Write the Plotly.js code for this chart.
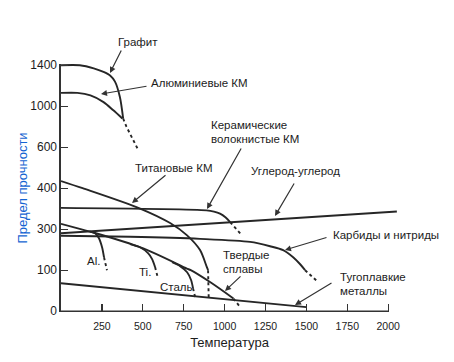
<!DOCTYPE html>
<html><head><meta charset="utf-8">
<script src="https://cdn.plot.ly/plotly-3.0.1.min.js"></script>
<style>html,body{margin:0;padding:0;background:#fff}</style>
</head><body><div id="chart" style="width:454px;height:362px"></div>
<script>
// Tick labels (the y axis in the original is non-uniform: labels are evenly spaced)
const yTickValues = [0, 100, 300, 400, 600, 1000, 1400];
const yTickLabels = ['0', '100', '300', '400', '600', '1000', '1400'];
const xTickValues = [250, 500, 750, 1000, 1250, 1500, 1750, 2000];
const xTickLabels = ['250', '500', '750', '1000', '1250', '1500', '1750', '2000'];

// Series (temperature, strength)
const graphiteX = [0, 115, 200, 260, 300, 330, 360, 380];
const graphiteY = [1400, 1400, 1370, 1335, 1300, 1240, 1090, 880];
const graphiteDotX = [380, 400, 470];
const graphiteDotY = [880, 800, 590];

const alKmX = [0, 100, 180, 260, 320, 375];
const alKmY = [1130, 1130, 1105, 1040, 960, 880];

const tiKmX = [0, 132, 480, 667, 769, 850, 891, 899];
const tiKmY = [435, 400, 351, 315, 271, 198, 116, 100];
const tiKmDotX = [899, 903];
const tiKmDotY = [100, 32];

const ceramicX = [0, 890, 935, 972, 1005, 1034];
const ceramicY = [352, 346, 343, 338, 329, 317];
const ceramicDotX = [1034, 1071, 1105];
const ceramicDotY = [317, 300, 271];

const carbonX = [0, 382, 2053];
const carbonY = [280, 300, 343];

const carbideX = [0, 422, 850, 1156, 1278, 1358, 1419, 1462, 1492];
const carbideY = [268, 263, 253, 238, 217, 198, 163, 129, 100];
const carbideDotX = [1492, 1566];
const carbideDotY = [100, 73];

const hardX = [0, 120, 198, 503, 769, 793, 911, 1054];
const hardY = [313, 300, 284, 206, 108, 100, 71, 31];
const hardDotX = [1054, 1095];
const hardDotY = [31, 10];

const alX = [177, 208, 232, 251, 263];
const alY = [288, 280, 256, 212, 163];
const alDotX = [263, 281];
const alDotY = [163, 100];

const tiX = [422, 483, 532, 557, 575];
const tiY = [227, 212, 183, 154, 115];
const tiDotX = [575, 593];
const tiDotY = [115, 80];

const steelX = [679, 728, 771, 795, 807];
const steelY = [139, 120, 95, 76, 56];
const steelDotX = [807, 820];
const steelDotY = [56, 34];

const refrX = [0, 1500];
const refrY = [68, 10];

// map a strength value onto the evenly spaced label scale
function toAxis(v) {
  for (let i = 0; i < yTickValues.length - 1; i++) {
    const a = yTickValues[i], b = yTickValues[i + 1];
    if (v <= b || i === yTickValues.length - 2) return i + (v - a) / (b - a);
  }
}

const LC = '#262626';
function solid(x, y, smooth) {
  return {type: 'scatter', mode: 'lines', x: x, y: y.map(toAxis), hoverinfo: 'skip',
    line: {color: LC, width: 1.9, shape: smooth ? 'spline' : 'linear', smoothing: 0.8}};
}
function dotted(x, y) {
  return {type: 'scatter', mode: 'lines', x: x, y: y.map(toAxis), hoverinfo: 'skip',
    line: {color: LC, width: 1.9, dash: 'dot'}};
}

const data = [
  solid(graphiteX, graphiteY, true), dotted(graphiteDotX, graphiteDotY),
  solid(alKmX, alKmY, true),
  solid(tiKmX, tiKmY, true), dotted(tiKmDotX, tiKmDotY),
  solid(ceramicX, ceramicY, true), dotted(ceramicDotX, ceramicDotY),
  solid(carbonX, carbonY, false),
  solid(carbideX, carbideY, true), dotted(carbideDotX, carbideDotY),
  solid(hardX, hardY, true), dotted(hardDotX, hardDotY),
  solid(alX, alY, true), dotted(alDotX, alDotY),
  solid(tiX, tiY, true), dotted(tiDotX, tiDotY),
  solid(steelX, steelY, true), dotted(steelDotX, steelDotY),
  solid(refrX, refrY, false)
];

// layout helpers: pixel position in the figure -> paper coordinates (for label placement)
const L = 61, W = 337, XR = 2060, T = 64, H = 248, Y0 = -0.02, Y1 = 6.03;
function pxX(px) { return (px - L) / W; }
function pxY(py) { return (T + H - py) / H; }

function label(text, px, py) {
  return {text: text, x: pxX(px), y: pxY(py), xref: 'paper', yref: 'paper', showarrow: false,
    xanchor: 'left', yanchor: 'middle', font: {size: 11.5, color: '#1c1c1c'}};
}
function arrow(tx, ty, sx, sy) {
  return {text: '', x: pxX(tx), y: pxY(ty), xref: 'paper', yref: 'paper', showarrow: true,
    ax: sx - tx, ay: sy - ty, arrowhead: 2, arrowsize: 1, arrowwidth: 1.2, arrowcolor: '#333', standoff: 0};
}

const annotations = [
  label('Графит', 116, 42), arrow(110, 73, 122, 49),
  label('Алюминиевые КМ', 149, 83), arrow(101, 94, 148, 86),
  label('Керамические', 209, 125), label('волокнистые КМ', 209, 139), arrow(207, 209, 242, 147),
  label('Углерод-углерод', 249, 171), arrow(275, 216, 295, 182),
  label('Титановые КМ', 133, 168), arrow(132, 203, 167, 174),
  label('Карбиды и нитриды', 331, 235), arrow(285, 250, 328, 237),
  label('Твердые', 221, 255), label('сплавы', 221, 269), arrow(225, 291, 242, 275),
  label('Тугоплавкие', 338, 277), label('металлы', 338, 291), arrow(295, 305, 333, 282),
  label('Al.', 85, 261), label('Ti.', 137, 272), label('Сталь', 158, 287)
];

const layout = {
  width: 454, height: 362,
  margin: {l: L, r: 454 - L - W, t: T, b: 362 - T - H, pad: 0},
  paper_bgcolor: '#fff', plot_bgcolor: '#fff', showlegend: false,
  font: {family: '"Liberation Sans", Arial, sans-serif', color: '#1c1c1c', size: 12},
  xaxis: {range: [0, XR], tickvals: xTickValues, ticktext: xTickLabels, ticks: 'inside', ticklen: 8,
    tickwidth: 1.2, tickcolor: '#333', showline: false, showgrid: false, zeroline: false,
    ticklabelstandoff: 6,
    tickfont: {size: 10.5}, title: {text: 'Температура', font: {size: 13}, standoff: 7}},
  yaxis: {range: [Y0, Y1], tickvals: [0, 1, 2, 3, 4, 5, 6], ticktext: yTickLabels, ticks: 'inside', ticklen: 7,
    tickwidth: 1.2, tickcolor: '#333', showline: true, linecolor: '#333', linewidth: 1.6, showgrid: false,
    zeroline: false, tickfont: {size: 12},
    title: {text: 'Предел прочности', font: {size: 13, color: '#1464d2'}, standoff: 0}},
  shapes: [{type: 'line', xref: 'x', yref: 'y', x0: 0, x1: 2000, y0: 0, y1: 0, line: {color: '#333', width: 1.6}}],
  annotations: annotations
};

Plotly.newPlot('chart', data, layout, {displayModeBar: false, staticPlot: true});
</script>
</body></html>
